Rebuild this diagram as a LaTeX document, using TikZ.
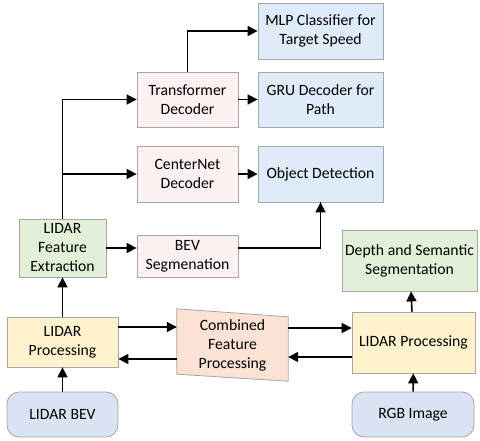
\documentclass[tikz,border=0pt]{standalone}
\usepackage{fontspec}
\setmainfont{Carlito}
\usetikzlibrary{arrows.meta}
\definecolor{pinkf}{HTML}{FCF1F1}
\definecolor{bluef}{HTML}{DEEBF8}
\definecolor{greenf}{HTML}{E2F0D9}
\definecolor{yellowf}{HTML}{FFF2CC}
\definecolor{peachf}{HTML}{FBE2D5}
\definecolor{lavf}{HTML}{DAE3F3}
\definecolor{bord}{HTML}{A6A6A6}
\tikzset{
  box/.style={draw=bord, line width=0.8pt, align=center, inner sep=0pt, font=\fontsize{15.7}{19}\selectfont},
  arr/.style={draw=black, line width=1.6pt, -{Triangle[length=10pt,width=10pt]}},
  ln/.style={draw=black, line width=1.6pt},
}
\begin{document}
\begin{tikzpicture}[x=1pt,y=-1pt]
\useasboundingbox (0,0) rectangle (480,441);
% boxes
\node[box, fill=bluef, minimum width=125pt, minimum height=56pt] (mlp) at (320.5,31) {MLP Classifier for\\Target Speed};
\node[box, fill=bluef, minimum width=125pt, minimum height=55pt] (gru) at (320.5,99.5) {GRU Decoder for\\Path};
\node[box, fill=bluef, minimum width=125pt, minimum height=56pt] (obj) at (320.5,174) {Object Detection};
\node[box, fill=pinkf, minimum width=101pt, minimum height=55pt] (trans) at (187.5,99.5) {Transformer\\Decoder};
\node[box, fill=pinkf, minimum width=101pt, minimum height=56pt] (cnet) at (187.5,174) {CenterNet\\Decoder};
\node[box, fill=pinkf, minimum width=101pt, minimum height=42pt] (bevseg) at (187.5,256) {BEV\\Segmenation};
\node[box, fill=greenf, minimum width=87pt, minimum height=58pt] (lfe) at (62.5,248) {LIDAR\\Feature\\Extraction};
\node[box, fill=yellowf, minimum width=111pt, minimum height=50pt] (lpl) at (62.5,342) {LIDAR\\Processing};
\node[box, fill=lavf, rounded corners=12pt, minimum width=111pt, minimum height=45pt] (bev) at (62.5,414.5) {LIDAR BEV};
\node[box, fill=yellowf, minimum width=123pt, minimum height=61pt] (lpr) at (413.5,342.5) {LIDAR Processing};
\node[box, fill=greenf, minimum width=135pt, minimum height=61pt] (depth) at (409.5,260.5) {Depth and Semantic\\Segmentation};
\node[box, fill=lavf, rounded corners=12pt, minimum width=122pt, minimum height=45pt] (rgb) at (413,414.5) {RGB Image};
% combined (skewed quadrilateral)
\node[inner sep=0pt, minimum width=111pt, minimum height=72pt] (comb) at (232.5,345) {};
\draw[draw=bord, line width=0.8pt, fill=peachf] (comb.north west) -- ([yshift=-8pt]comb.north east) -- (comb.south east) -- ([yshift=7pt]comb.south west) -- cycle;
\node[align=center, inner sep=0pt, font=\fontsize{15.7}{19}\selectfont] at (comb.center) {Combined\\Feature\\Processing};
% connectors
\draw[arr] (bev) -- (lpl);
\draw[arr] (lpl) -- (lfe);
\draw[arr] (lfe.north) |- (trans.west);
\draw[arr] (lfe.north |- cnet.west) -- (cnet.west);
\draw[arr] (lfe.east) -- (lfe.east -| bevseg.west);
\draw[ln] (bevseg.east |- lfe.east) -| (obj.south);
\draw[arr] (obj.south |- lfe.east) -- (obj.south);
\draw[arr] (trans.north) |- (mlp.west);
\draw[arr] (trans) -- (gru);
\draw[arr] (cnet) -- (obj);
\draw[arr] ([yshift=15pt]lpl.east) -- ([yshift=15pt]lpl.east -| comb.west);
\draw[arr] ([yshift=-17pt]lpl.east -| comb.west) -- ([yshift=-17pt]lpl.east);
\draw[arr] ([yshift=14.5pt]lpr.west -| comb.east) -- ([yshift=14.5pt]lpr.west);
\draw[arr] ([yshift=-14.5pt]lpr.west) -- ([yshift=-14.5pt]lpr.west -| comb.east);
\draw[arr] (lpr) -- (depth);
\draw[arr] (rgb) -- (lpr);
\end{tikzpicture}
\end{document}
